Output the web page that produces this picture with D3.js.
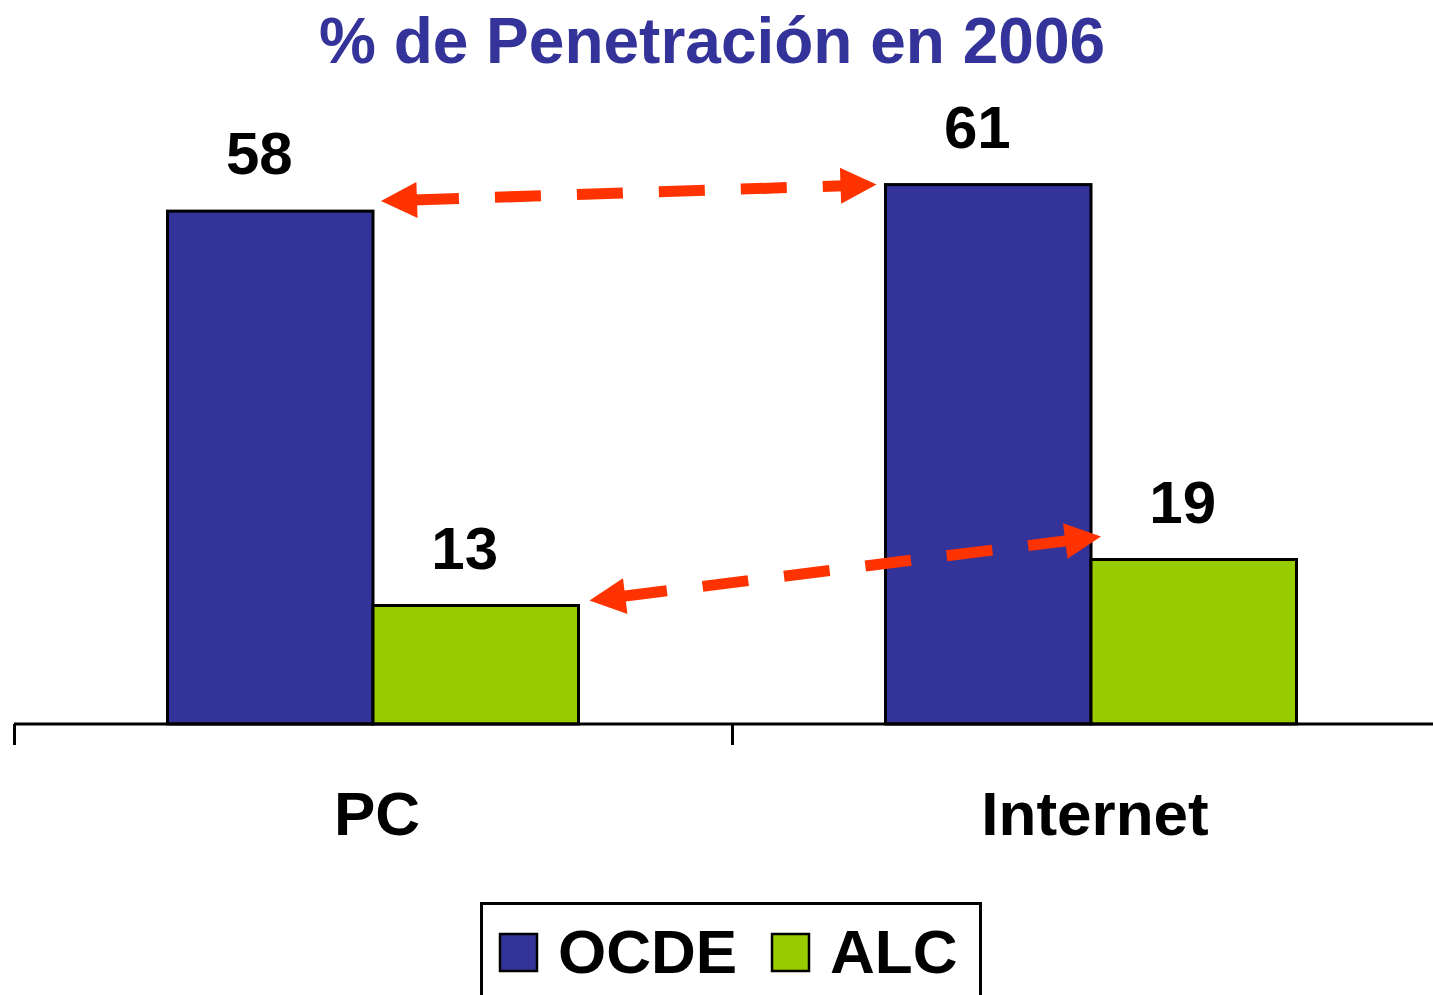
<!DOCTYPE html>
<meta charset="utf-8">
<script src="https://d3js.org/d3.v7.min.js"></script>
<style>
  body { margin: 0; background: #fff; }
  text { font-family: "Liberation Sans", Arial, sans-serif; font-weight: bold; }
</style>
<body>
<div id="chart"></div>
<script>
// data
var categories = ["PC", "Internet"];
var seriesNames = ["OCDE", "ALC"];
var ocdeValues = [58, 61];
var alcValues = [13.4, 18.6];
var seriesColors = ["#333399", "#99CC00"];
var titleText = "% de Penetración en 2006";

var width = 1433, height = 995;
var baseY = 724;

var svg = d3.select("#chart")
  .append("svg")
    .attr("width", width)
    .attr("height", height);

var data = categories.map(function(c, i) {
  return { cat: c, values: [ocdeValues[i], alcValues[i]] };
});

var x0 = d3.scaleBand()
  .domain(categories)
  .range([14, 1450])
  .padding(0);

var x1 = d3.scaleBand()
  .domain(seriesNames)
  .range([0, x0.bandwidth()])
  .paddingInner(0)
  .paddingOuter(0.747);

var y = d3.scaleLinear()
  .domain([0, 70])
  .range([baseY, baseY - 619]);

var fmt = d3.format(".0f");

// title
svg.append("text")
  .attr("x", 712)
  .attr("y", 63)
  .attr("text-anchor", "middle")
  .style("font-size", "64px")
  .style("fill", "#333399")
  .text(titleText);

// bars
var groups = svg.selectAll(".grp")
  .data(data)
  .enter().append("g")
    .attr("class", "grp")
    .attr("transform", function(d) { return "translate(" + x0(d.cat) + ",0)"; });

groups.selectAll("rect")
  .data(function(d) { return d.values.map(function(v, j) { return { s: seriesNames[j], v: v, c: seriesColors[j] }; }); })
  .enter().append("rect")
    .attr("x", function(d) { return x1(d.s); })
    .attr("y", function(d) { return y(d.v); })
    .attr("width", x1.bandwidth())
    .attr("height", function(d) { return baseY - y(d.v); })
    .attr("fill", function(d) { return d.c; })
    .attr("stroke", "#000")
    .attr("stroke-width", 3);

groups.selectAll(".lbl")
  .data(function(d) { return d.values.map(function(v, j) { return { s: seriesNames[j], v: v }; }); })
  .enter().append("text")
    .attr("class", "lbl")
    .attr("x", function(d) { return x1(d.s) + x1.bandwidth() / 2 - 11; })
    .attr("y", function(d) { return y(d.v) - 37; })
    .attr("text-anchor", "middle")
    .style("font-size", "60px")
    .style("fill", "#000")
    .text(function(d) { return fmt(d.v); });

// axis line, ticks at band edges, category names
svg.append("line")
  .attr("x1", 14).attr("x2", width)
  .attr("y1", baseY).attr("y2", baseY)
  .attr("stroke", "#000")
  .attr("stroke-width", 3);

svg.selectAll(".tick")
  .data(categories)
  .enter().append("line")
    .attr("class", "tick")
    .attr("x1", function(d) { return x0(d) + 0.5; })
    .attr("x2", function(d) { return x0(d) + 0.5; })
    .attr("y1", baseY)
    .attr("y2", baseY + 21)
    .attr("stroke", "#000")
    .attr("stroke-width", 3);

svg.selectAll(".cat")
  .data(categories)
  .enter().append("text")
    .attr("class", "cat")
    .attr("x", function(d) { return x0(d) + x0.bandwidth() / 2 + 4; })
    .attr("y", 835)
    .attr("text-anchor", "middle")
    .style("font-size", "62px")
    .style("fill", "#000")
    .text(function(d) { return d; });

// dashed double arrows between bar tops
function barRight(cat, s) { return x0(cat) + x1(s) + x1.bandwidth(); }
function barLeft(cat, s) { return x0(cat) + x1(s); }

var arrows = [
  { a: [barRight("PC", "OCDE") + 8, y(ocdeValues[0]) - 10], b: [barLeft("Internet", "OCDE") - 9, y(ocdeValues[1])] },
  { a: [barRight("PC", "ALC") + 11, y(alcValues[0]) - 5], b: [barLeft("Internet", "ALC") + 10, y(alcValues[1]) - 23] }
];

var arrowColor = "#FF3300";
var headLen = 36, headHalf = 18;

arrows.forEach(function(ar) {
  var dx = ar.b[0] - ar.a[0], dy = ar.b[1] - ar.a[1];
  var len = Math.sqrt(dx * dx + dy * dy);
  var ux = dx / len, uy = dy / len;
  var px = -uy, py = ux;
  var s = [ar.a[0] + ux * (headLen - 4), ar.a[1] + uy * (headLen - 4)];
  var e = [ar.b[0] - ux * (headLen - 4), ar.b[1] - uy * (headLen - 4)];

  svg.append("line")
    .attr("x1", s[0]).attr("y1", s[1])
    .attr("x2", e[0]).attr("y2", e[1])
    .attr("stroke", arrowColor)
    .attr("stroke-width", 11)
    .attr("stroke-dasharray", "46,36");

  [[ar.a, 1], [ar.b, -1]].forEach(function(h) {
    var t = h[0], d = h[1];
    var bx = t[0] + d * ux * headLen, by = t[1] + d * uy * headLen;
    svg.append("polygon")
      .attr("points", [
        [t[0], t[1]],
        [bx + px * headHalf, by + py * headHalf],
        [bx - px * headHalf, by - py * headHalf]
      ].map(function(p) { return p.join(","); }).join(" "))
      .attr("fill", arrowColor);
  });
});

// legend
var legend = svg.append("g");
legend.append("rect")
  .attr("x", 481.5).attr("y", 903.5)
  .attr("width", 499).attr("height", 120)
  .attr("fill", "#fff")
  .attr("stroke", "#000")
  .attr("stroke-width", 3);

var legendX = [500, 772];
seriesNames.forEach(function(name, i) {
  legend.append("rect")
    .attr("x", legendX[i]).attr("y", 934)
    .attr("width", 37).attr("height", 37)
    .attr("fill", seriesColors[i])
    .attr("stroke", "#000")
    .attr("stroke-width", 2.5);
  legend.append("text")
    .attr("x", legendX[i] + 58)
    .attr("y", 973)
    .style("font-size", "62px")
    .style("fill", "#000")
    .text(name);
});
</script>
</body>
